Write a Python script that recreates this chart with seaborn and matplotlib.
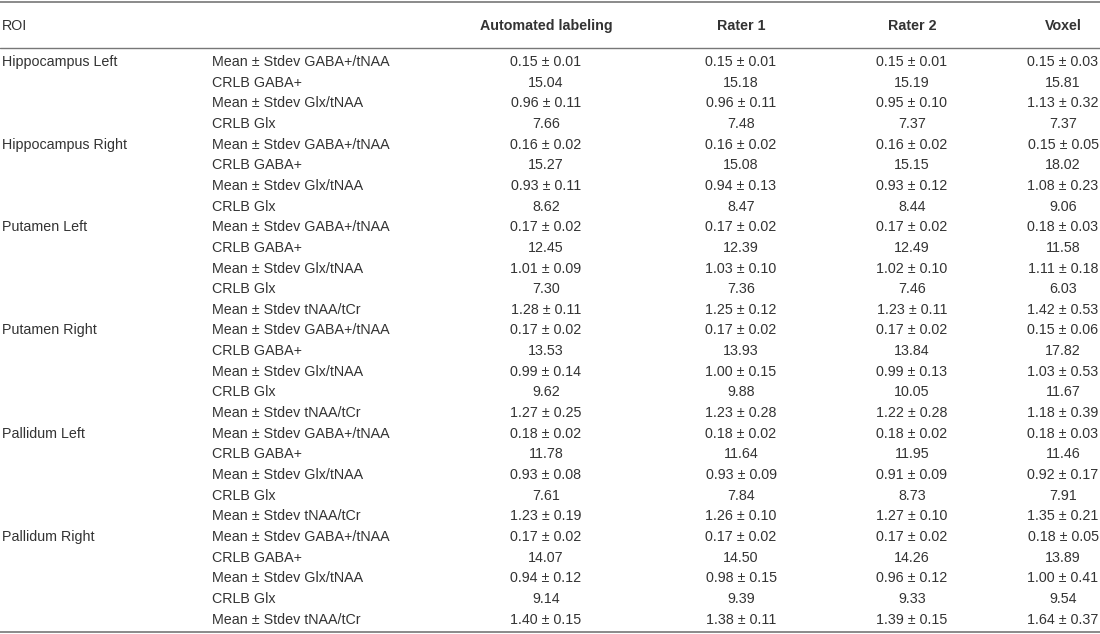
import seaborn as sns
import matplotlib.pyplot as plt

# Table content
columns = ['Automated labeling', 'Rater 1', 'Rater 2', 'Voxel']
rois = ['Hippocampus Left', 'Hippocampus Right', 'Putamen Left',
        'Putamen Right', 'Pallidum Left', 'Pallidum Right']

measures_4 = ['Mean ± Stdev GABA+/tNAA', 'CRLB GABA+', 'Mean ± Stdev Glx/tNAA', 'CRLB Glx']
measures_5 = measures_4 + ['Mean ± Stdev tNAA/tCr']

hipp_left = [
    ['0.15 ± 0.01', '0.15 ± 0.01', '0.15 ± 0.01', '0.15 ± 0.03'],
    ['15.04', '15.18', '15.19', '15.81'],
    ['0.96 ± 0.11', '0.96 ± 0.11', '0.95 ± 0.10', '1.13 ± 0.32'],
    ['7.66', '7.48', '7.37', '7.37'],
]
hipp_right = [
    ['0.16 ± 0.02', '0.16 ± 0.02', '0.16 ± 0.02', '0.15 ± 0.05'],
    ['15.27', '15.08', '15.15', '18.02'],
    ['0.93 ± 0.11', '0.94 ± 0.13', '0.93 ± 0.12', '1.08 ± 0.23'],
    ['8.62', '8.47', '8.44', '9.06'],
]
put_left = [
    ['0.17 ± 0.02', '0.17 ± 0.02', '0.17 ± 0.02', '0.18 ± 0.03'],
    ['12.45', '12.39', '12.49', '11.58'],
    ['1.01 ± 0.09', '1.03 ± 0.10', '1.02 ± 0.10', '1.11 ± 0.18'],
    ['7.30', '7.36', '7.46', '6.03'],
    ['1.28 ± 0.11', '1.25 ± 0.12', '1.23 ± 0.11', '1.42 ± 0.53'],
]
put_right = [
    ['0.17 ± 0.02', '0.17 ± 0.02', '0.17 ± 0.02', '0.15 ± 0.06'],
    ['13.53', '13.93', '13.84', '17.82'],
    ['0.99 ± 0.14', '1.00 ± 0.15', '0.99 ± 0.13', '1.03 ± 0.53'],
    ['9.62', '9.88', '10.05', '11.67'],
    ['1.27 ± 0.25', '1.23 ± 0.28', '1.22 ± 0.28', '1.18 ± 0.39'],
]
pall_left = [
    ['0.18 ± 0.02', '0.18 ± 0.02', '0.18 ± 0.02', '0.18 ± 0.03'],
    ['11.78', '11.64', '11.95', '11.46'],
    ['0.93 ± 0.08', '0.93 ± 0.09', '0.91 ± 0.09', '0.92 ± 0.17'],
    ['7.61', '7.84', '8.73', '7.91'],
    ['1.23 ± 0.19', '1.26 ± 0.10', '1.27 ± 0.10', '1.35 ± 0.21'],
]
pall_right = [
    ['0.17 ± 0.02', '0.17 ± 0.02', '0.17 ± 0.02', '0.18 ± 0.05'],
    ['14.07', '14.50', '14.26', '13.89'],
    ['0.94 ± 0.12', '0.98 ± 0.15', '0.96 ± 0.12', '1.00 ± 0.41'],
    ['9.14', '9.39', '9.33', '9.54'],
    ['1.40 ± 0.15', '1.38 ± 0.11', '1.39 ± 0.15', '1.64 ± 0.37'],
]
blocks = [hipp_left, hipp_right, put_left, put_right, pall_left, pall_right]

sns.set_theme(style='white')
plt.rcParams['font.family'] = ['Liberation Sans', 'DejaVu Sans']

fig = plt.figure(figsize=(11, 6.34), dpi=100)
ax = fig.add_axes([0, 0, 1, 1])
ax.set_xlim(0, 1100)
ax.set_ylim(634, 0)
ax.axis('off')

text_color = '#333333'
line_color = '#777777'
fs = 10.3
col_x = [546, 741, 912, 1063]
label_x = 212
row_h = 20.65

# rules
ax.axhline(1.5, color=line_color, lw=1.2)
ax.axhline(48, color=line_color, lw=1.0)
ax.axhline(632, color=line_color, lw=1.2)

# header
ax.text(2, 26, 'ROI', ha='left', va='center', fontsize=fs, color=text_color)
for x, c in zip(col_x, columns):
    ax.text(x, 26, c, ha='center', va='center', fontsize=fs,
            fontweight='bold', color=text_color)

# body
y = 62
for roi, block in zip(rois, blocks):
    labels = measures_4 if len(block) == 4 else measures_5
    ax.text(2, y, roi, ha='left', va='center', fontsize=fs, color=text_color)
    for lab, vals in zip(labels, block):
        ax.text(label_x, y, lab, ha='left', va='center', fontsize=fs, color=text_color)
        for x, v in zip(col_x, vals):
            ax.text(x, y, v, ha='center', va='center', fontsize=fs, color=text_color)
        y += row_h

fig.savefig('out.png', dpi=100, facecolor='white')
